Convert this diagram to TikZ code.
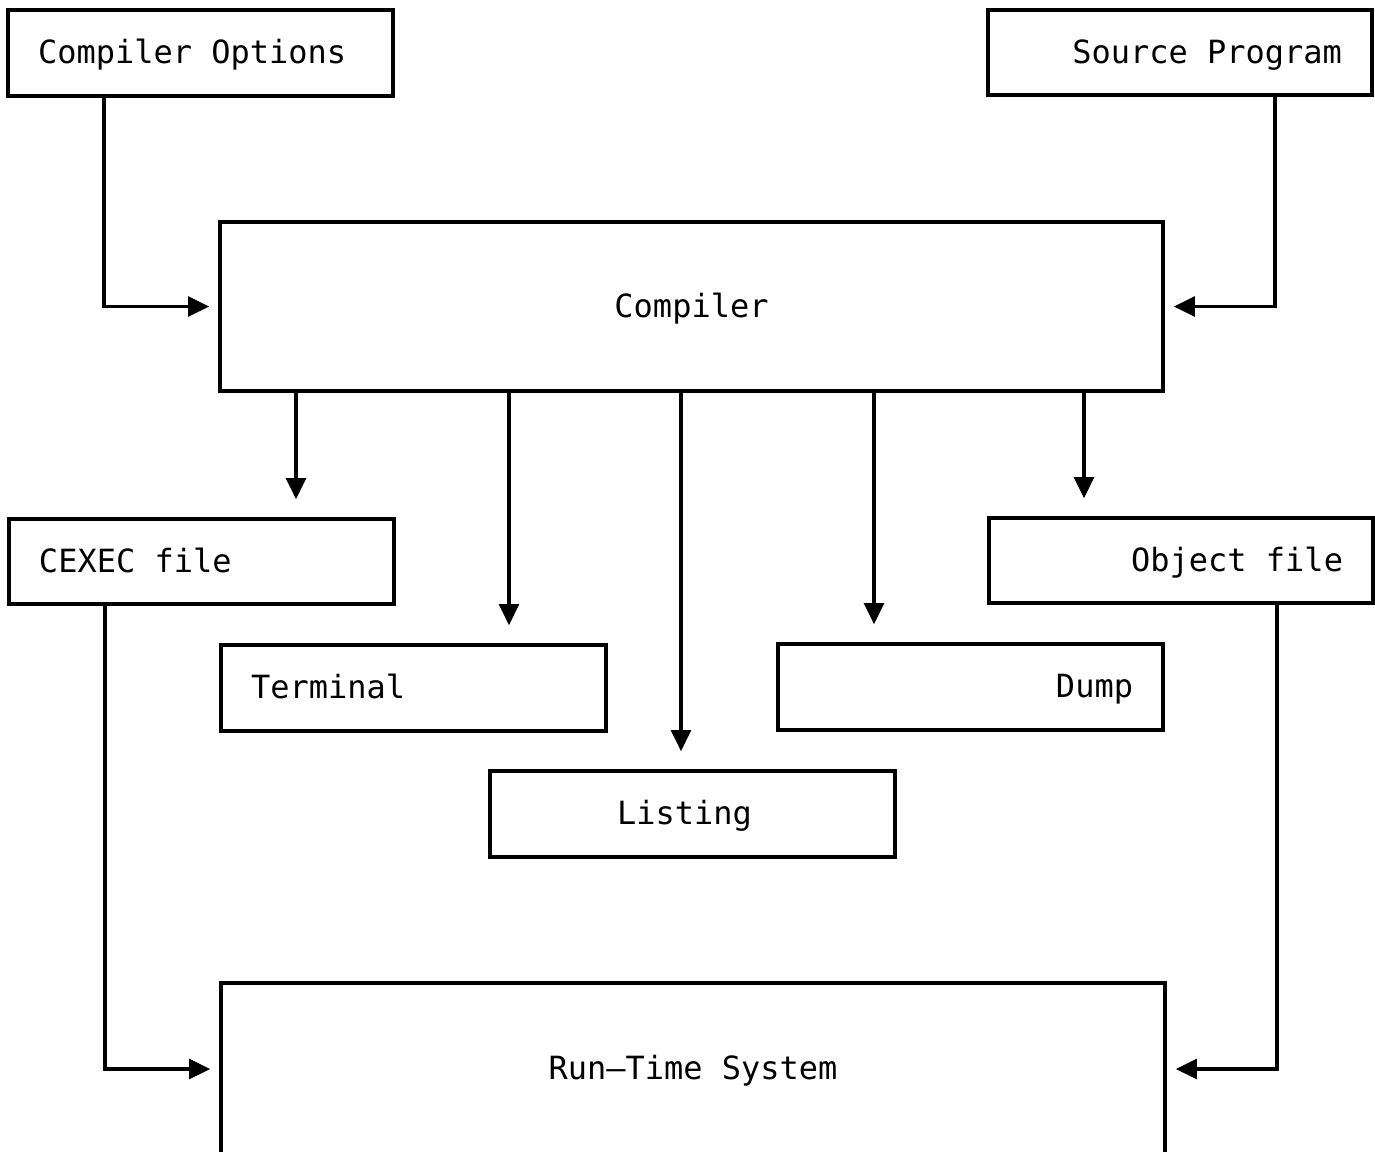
\documentclass[tikz,border=0pt]{standalone}
\usepackage{fontspec}
\setmonofont{DejaVu Sans Mono}
\usetikzlibrary{arrows.meta}

\newcommand{\lefttext}[2]{\makebox[#1][l]{#2}}
\newcommand{\righttext}[2]{\makebox[#1][r]{#2}}

\begin{document}
\begin{tikzpicture}[
    box/.style={draw, line width=1pt, rectangle, font=\ttfamily\fontsize{9.1pt}{11pt}\selectfont, inner xsep=0.3cm, inner ysep=0pt, text height=6pt, text depth=0pt},
    flow/.style={line width=1pt, -{Triangle[length=6pt, width=5.6pt]}}
  ]
  \useasboundingbox (0, 0) rectangle (13.75, -11.51);

  \node[box, minimum width=3.85cm, minimum height=0.86cm] (opts) at (2.005, -0.53) {\lefttext{3.25cm}{Compiler Options}};
  \node[box, minimum width=3.84cm, minimum height=0.85cm] (source) at (11.80, -0.525) {\righttext{3.24cm}{Source Program}};
  \node[box, minimum width=9.43cm, minimum height=1.69cm] (compiler) at (6.915, -3.065) {Compiler};
  \node[box, minimum width=3.85cm, minimum height=0.85cm] (cexec) at (2.015, -5.615) {\lefttext{3.25cm}{CEXEC file}};
  \node[box, minimum width=3.84cm, minimum height=0.85cm] (object) at (11.81, -5.605) {\righttext{3.24cm}{Object file}};
  \node[box, minimum width=3.85cm, minimum height=0.86cm] (terminal) at (4.135, -6.88) {\lefttext{3.25cm}{Terminal}};
  \node[box, minimum width=3.85cm, minimum height=0.86cm] (dump) at (9.705, -6.87) {\righttext{3.25cm}{Dump}};
  \node[box, minimum width=4.05cm, minimum height=0.86cm] (listing) at (6.925, -8.14) {\lefttext{3.45cm}{\hspace{0.97cm}Listing}};
  \node[box, minimum width=9.44cm, minimum height=1.72cm] (runtime) at (6.93, -10.69) {Run–Time System};

  % drop points of the connectors
  \coordinate (optsx) at (1.04, 0);
  \coordinate (sourcex) at (12.75, 0);
  \coordinate (cexecx) at (1.05, 0);
  \coordinate (objectx) at (12.77, 0);

  \draw[flow, shorten >=0.09cm] (optsx |- opts.south) |- (compiler.west);
  \draw[flow, shorten >=0.09cm] (sourcex |- source.south) |- (compiler.east);
  \draw[flow, shorten >=0.09cm] (cexecx |- cexec.south) |- (runtime.west);
  \draw[flow, shorten >=0.09cm] (objectx |- object.south) |- (runtime.east);

  \foreach \x/\target in {2.96/cexec, 5.09/terminal, 6.81/listing, 8.74/dump, 10.84/object} {
    \coordinate (tap) at (\x, 0);
    \draw[flow, shorten >=0.18cm] (tap |- compiler.south) -- (tap |- \target.north);
  }
\end{tikzpicture}
\end{document}
